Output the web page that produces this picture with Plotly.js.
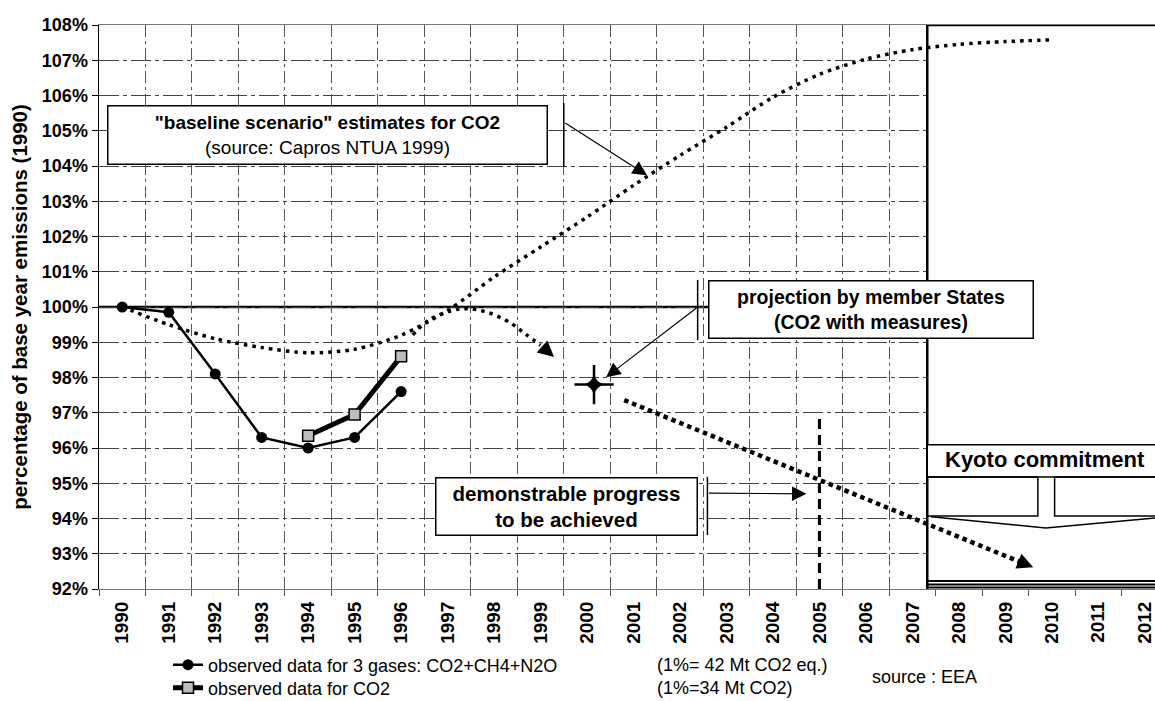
<!DOCTYPE html>
<html>
<head>
<meta charset="utf-8">
<script src="https://cdn.plot.ly/plotly-3.0.1.min.js"></script>
<style>html,body{margin:0;padding:0;background:#fff;}</style>
</head>
<body>
<div id="chart" style="width:1155px;height:701px;"></div>
<script>
// ---- data ----
const yearLabels = ['1990','1991','1992','1993','1994','1995','1996','1997','1998','1999','2000','2001','2002','2003','2004','2005','2006','2007','2008','2009','2010','2011','2012'];
const obsYears = [1990, 1991, 1992, 1993, 1994, 1995, 1996];
const gases3 = [100.0, 99.85, 98.1, 96.3, 96.0, 96.3, 97.6];
const co2Years = [1994, 1995, 1996];
const co2 = [96.35, 96.95, 98.6];
const baselineYears = [1990,1991,1992,1993,1994,1995,1996,1997,1998,1999,2000,2001,2002,2003,2004,2005,2006,2007,2008,2009,2010];
const baseline = [100.0, 99.5, 99.1, 98.85, 98.7, 98.8, 99.2, 99.9, 100.85, 101.7, 102.55, 103.45, 104.3, 105.1, 105.95, 106.6, 107.03, 107.3, 107.45, 107.53, 107.58];
const trendX = [1996.25, 1996.6, 1997.1, 1997.45, 1997.9, 1998.35, 1998.7, 1999.0];
const trendY = [99.21, 99.63, 99.9, 99.95, 99.83, 99.55, 99.21, 98.92];
const msYear = [2000.15];
const msValue = [97.8];
const projX = [2000.8, 2009.35];
const projY = [97.36, 92.75];
const yTicks = [92,93,94,95,96,97,98,99,100,101,102,103,104,105,106,107,108];
const yTickLabels = ['92%','93%','94%','95%','96%','97%','98%','99%','100%','101%','102%','103%','104%','105%','106%','107%','108%'];

const F = 'Arial, "Liberation Sans", Helvetica, sans-serif';
const yearNums = yearLabels.map(Number);
const X0 = 1989.5, X1 = 2012.22;

const traces = [
  {x: baselineYears, y: baseline, mode: 'lines', line: {color: '#000', width: 3.5, dash: '3.5px,5px', shape: 'spline', smoothing: 0.8}, showlegend: false, hoverinfo: 'skip'},
  {x: trendX, y: trendY, mode: 'lines', line: {color: '#000', width: 3.5, dash: '3.5px,5px', shape: 'spline'}, showlegend: false, hoverinfo: 'skip'},
  {x: projX, y: projY, mode: 'lines', line: {color: '#000', width: 4.5, dash: '4.5px,4px'}, showlegend: false, hoverinfo: 'skip'},
  {x: msYear, y: msValue, mode: 'markers', marker: {symbol: 'cross-thin', size: 28, color: '#000', line: {color: '#000', width: 2.5}}, showlegend: false, hoverinfo: 'skip'},
  {x: msYear, y: msValue, mode: 'markers', marker: {symbol: 'star-diamond', size: 15, color: '#000'}, showlegend: false, hoverinfo: 'skip'},
  {x: obsYears, y: gases3, name: 'observed data for 3 gases: CO2+CH4+N2O', mode: 'lines+markers', legend: 'legend',
   line: {color: '#000', width: 2.5}, marker: {symbol: 'circle', size: 11, color: '#000'}},
  {x: co2Years, y: co2, name: 'observed data for CO2', mode: 'lines+markers', legend: 'legend2',
   line: {color: '#000', width: 5}, marker: {symbol: 'square', size: 11, color: '#bdbdbd', line: {color: '#000', width: 1.5}}}
];

const blk = {color: '#000', width: 1.5};
const shapes = [
  {type: 'rect', xref: 'x', yref: 'y', x0: 2007.32, x1: 2012.5, y0: 92, y1: 108, fillcolor: '#fff', line: {width: 0}, layer: 'between'},
  {type: 'line', xref: 'paper', yref: 'y', x0: 0, x1: 1, y0: 100, y1: 100, line: {color: '#000', width: 2.5}, layer: 'between'},
  {type: 'line', xref: 'x', yref: 'y', x0: 2007.32, x1: 2007.32, y0: 92, y1: 108, line: {color: '#000', width: 2.5}},
  {type: 'line', xref: 'x', yref: 'y', x0: 2007.32, x1: 2012.5, y0: 108, y1: 108, line: {color: '#000', width: 2.5}},
  // Kyoto box
  {type: 'rect', xref: 'x', yref: 'y', x0: 2007.32, x1: 2012.5, y0: 95.18, y1: 96.09, fillcolor: '#fff', line: blk},
  {type: 'rect', xref: 'x', yref: 'y', x0: 2007.32, x1: 2009.7, y0: 94.07, y1: 95.18, line: blk},
  {type: 'rect', xref: 'x', yref: 'y', x0: 2010.06, x1: 2012.5, y0: 94.07, y1: 95.18, line: blk},
  {type: 'path', xref: 'x', yref: 'y', path: 'M2007.4,94.05 L2009.87,93.73 L2012.5,94.05', line: blk},
  {type: 'line', xref: 'x', yref: 'y', x0: 2007.32, x1: 2012.5, y0: 92.04, y1: 92.04, line: {color: '#000', width: 2}},
  {type: 'line', xref: 'x', yref: 'y', x0: 2007.32, x1: 2012.5, y0: 92.13, y1: 92.13, line: {color: '#000', width: 2}},
  {type: 'line', xref: 'x', yref: 'y', x0: 2007.32, x1: 2012.5, y0: 92.23, y1: 92.23, line: {color: '#000', width: 2}},
  // 2005 milestone
  {type: 'line', xref: 'x', yref: 'y', x0: 2005, x1: 2005, y0: 92, y1: 96.85, line: {color: '#000', width: 3, dash: '10px,6px'}},
  // brackets
  {type: 'line', xref: 'x', yref: 'y', x0: 1999.5, x1: 1999.5, y0: 103.97, y1: 105.79, line: blk},
  {type: 'line', xref: 'x', yref: 'y', x0: 2002.38, x1: 2002.38, y0: 99.06, y1: 100.77, line: blk},
  {type: 'line', xref: 'x', yref: 'y', x0: 2002.59, x1: 2002.59, y0: 93.53, y1: 95.18, line: blk}
];

function box(x, y, w, h, text, size) {
  return {xref: 'x', yref: 'y', x: x, y: y, text: text, showarrow: false, width: w, height: h,
    bgcolor: '#fff', bordercolor: '#000', borderwidth: 1.5, borderpad: 0, align: 'center', valign: 'middle',
    font: {family: F, size: size, color: '#000'}};
}
function arrow(x, y, ax, ay, size, width) {
  return {xref: 'x', yref: 'y', axref: 'x', ayref: 'y', x: x, y: y, ax: ax, ay: ay, text: '', showarrow: true,
    arrowhead: 2, arrowsize: size, arrowwidth: width, arrowcolor: '#000', standoff: 0, startstandoff: 0};
}
function ptxt(px, py, text, anchor) {
  return {xref: 'paper', yref: 'paper', x: (px - 99) / 1056, y: (589 - py) / 564, text: text, showarrow: false,
    xanchor: anchor || 'left', yanchor: 'middle', font: {family: F, size: 18, color: '#000'}};
}
function leg(px, py) {
  return {x: (px - 99) / 1056, y: (589 - py) / 564, xanchor: 'left', yanchor: 'middle', bgcolor: 'rgba(0,0,0,0)',
    font: {family: F, size: 18, color: '#000'}, itemwidth: 30, borderwidth: 0};
}

const annotations = [
  box(1994.42, 104.89, 438, 57, '<b>"baseline scenario" estimates for CO2</b><br>(source: Capros NTUA 1999)', 19),
  box(2006.1, 99.94, 323, 56, '<b>projection by member States</b><br><b>(CO2 with measures)</b>', 19.5),
  box(1999.55, 94.35, 260, 56, '<b>demonstrable progress</b><br><b>to be achieved</b>', 20.5),
  {xref: 'x', yref: 'y', x: 2009.85, y: 95.66, text: '<b>Kyoto commitment</b>', showarrow: false, font: {family: F, size: 22, color: '#000'}},
  arrow(2001.29, 103.74, 1999.5, 105.25, 2.4, 1.2),
  arrow(2000.41, 98.01, 2002.38, 100.0, 2.4, 1.2),
  arrow(2004.72, 94.70, 2002.59, 94.72, 2.4, 1.2),
  arrow(1999.29, 98.58, 1999.0, 98.92, 1.6, 2),
  arrow(2009.6, 92.62, 2009.3, 92.78, 1.6, 2),
  ptxt(655, 665, '(1%= 42 Mt CO2 eq.)'),
  ptxt(655, 688, '(1%=34 Mt CO2)'),
  ptxt(870, 677, 'source : EEA')
];

const layout = {
  width: 1155, height: 701,
  margin: {l: 99, r: 0, t: 25, b: 112, pad: 0, autoexpand: false},
  paper_bgcolor: '#fff', plot_bgcolor: '#fff',
  font: {family: F, color: '#000'},
  showlegend: true,
  legend: leg(168, 665),
  legend2: leg(168, 688),
  xaxis: {
    range: [X0, X1], tickmode: 'array', tickvals: yearNums, ticktext: yearLabels.map(s => '<b>' + s + '</b>'), tickangle: -90,
    tickfont: {family: F, size: 19, color: '#000'}, ticklabeloverflow: 'allow', ticklabelstandoff: 4,
    showgrid: false, zeroline: false, ticks: '', showline: true, linecolor: '#777', linewidth: 1, mirror: true,
    minor: {tick0: 1989.5, dtick: 1, showgrid: true, gridcolor: '#555', gridwidth: 1, griddash: '12px,4px,3px,4px',
      ticks: 'outside', ticklen: 6, tickcolor: '#555'}
  },
  yaxis: {
    range: [92, 108], tickmode: 'array', tickvals: yTicks, ticktext: yTickLabels.map(s => '<b>' + s + '</b>'),
    tickfont: {family: F, size: 18, color: '#000'},
    showgrid: true, gridcolor: '#444', gridwidth: 1, griddash: '20px,4px,4px,4px',
    ticks: 'outside', ticklen: 6, tickcolor: '#000', showline: true, linecolor: '#000', linewidth: 1.5, zeroline: false,
    title: {text: '<b>percentage of base year emissions (1990)</b>', font: {family: F, size: 20.5, color: '#000'}, standoff: 8}
  },
  shapes: shapes,
  annotations: annotations
};

Plotly.newPlot('chart', traces, layout, {displayModeBar: false, staticPlot: true});
</script>
</body>
</html>
